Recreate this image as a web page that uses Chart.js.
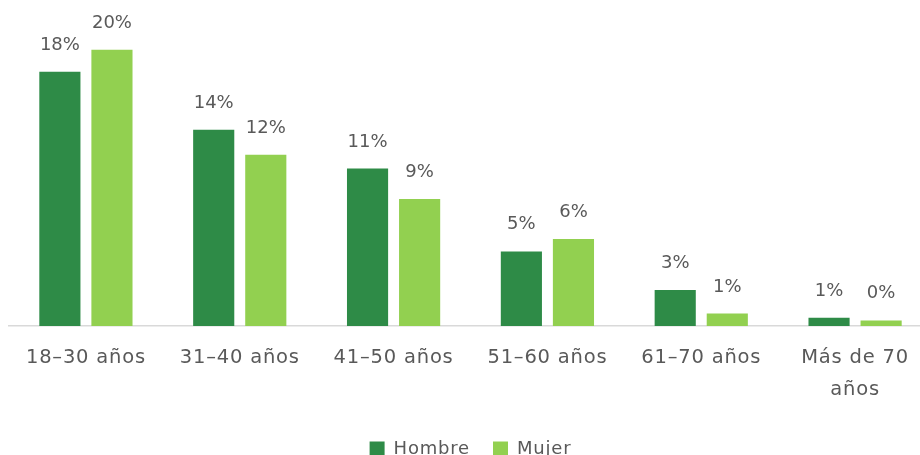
<!DOCTYPE html>
<html lang="es">
<head>
    <meta charset="UTF-8">
    <title>Edad por sexo</title>
    <script src="https://cdn.jsdelivr.net/npm/chart.js@4.4.1/dist/chart.umd.js"></script>
    <style>
        html, body { margin: 0; padding: 0; background: #fff; overflow: hidden; }
        .chart-container { width: 932px; height: 468px; position: relative; }
    </style>
</head>
<body>
    <div class="chart-container">
        <canvas id="ageChart"></canvas>
    </div>

    <script>
        // data (labels are rounded from these)
        const categories = ['18–30 años', '31–40 años', '41–50 años', '51–60 años', '61–70 años', ['Más de 70', 'años']];
        const hombre = [18.4, 14.2, 11.4, 5.4, 2.6, 0.6];
        const mujer = [20.0, 12.4, 9.2, 6.3, 0.9, 0.4];

        const FONT = '"DejaVu Sans", sans-serif';
        const TEXT = '#595959';
        const SPACING = '0.8px';

        // the reference text is a bit more open than DejaVu
        const spacing = {
            id: 'spacing',
            beforeLayout(chart) { chart.ctx.letterSpacing = SPACING; },
            beforeDraw(chart) { chart.ctx.letterSpacing = SPACING; }
        };

        // simple value labels above the bars
        const barLabels = {
            id: 'barLabels',
            afterDatasetsDraw(chart) {
                const ctx = chart.ctx;
                ctx.save();
                ctx.letterSpacing = '0px';
                ctx.font = '18px ' + FONT;
                ctx.fillStyle = TEXT;
                ctx.textAlign = 'center';
                ctx.textBaseline = 'alphabetic';
                chart.data.datasets.forEach((ds, i) => {
                    chart.getDatasetMeta(i).data.forEach((bar, j) => {
                        ctx.fillText(Math.round(ds.data[j]) + '%', bar.x, bar.y - 22);
                    });
                });
                ctx.restore();
            }
        };

        new Chart(document.getElementById('ageChart'), {
            type: 'bar',
            data: {
                labels: categories,
                datasets: [
                    { label: 'Hombre', data: hombre, backgroundColor: '#2E8B47' },
                    { label: 'Mujer', data: mujer, backgroundColor: '#92D050' }
                ]
            },
            options: {
                responsive: true,
                maintainAspectRatio: false,
                animation: false,
                categoryPercentage: 0.677,
                barPercentage: 0.79,
                layout: { padding: { left: 9, right: 0, top: 0, bottom: 0 } },
                scales: {
                    y: { display: false, min: 0, max: 23.6 },
                    x: {
                        grid: { display: false, drawTicks: false },
                        border: { color: '#D9D9D9', width: 1.5 },
                        ticks: {
                            color: TEXT,
                            font: { family: FONT, size: 19.5, lineHeight: 1.65 },
                            padding: 16,
                            maxRotation: 0,
                            autoSkip: false
                        },
                        afterFit(scale) { scale.height = 91; }
                    }
                },
                plugins: {
                    tooltip: { enabled: false },
                    legend: {
                        position: 'bottom',
                        labels: {
                            color: TEXT,
                            font: { family: FONT, size: 18 },
                            boxWidth: 15,
                            boxHeight: 15,
                            padding: 23
                        }
                    }
                }
            },
            plugins: [spacing, barLabels]
        });
    </script>
</body>
</html>
